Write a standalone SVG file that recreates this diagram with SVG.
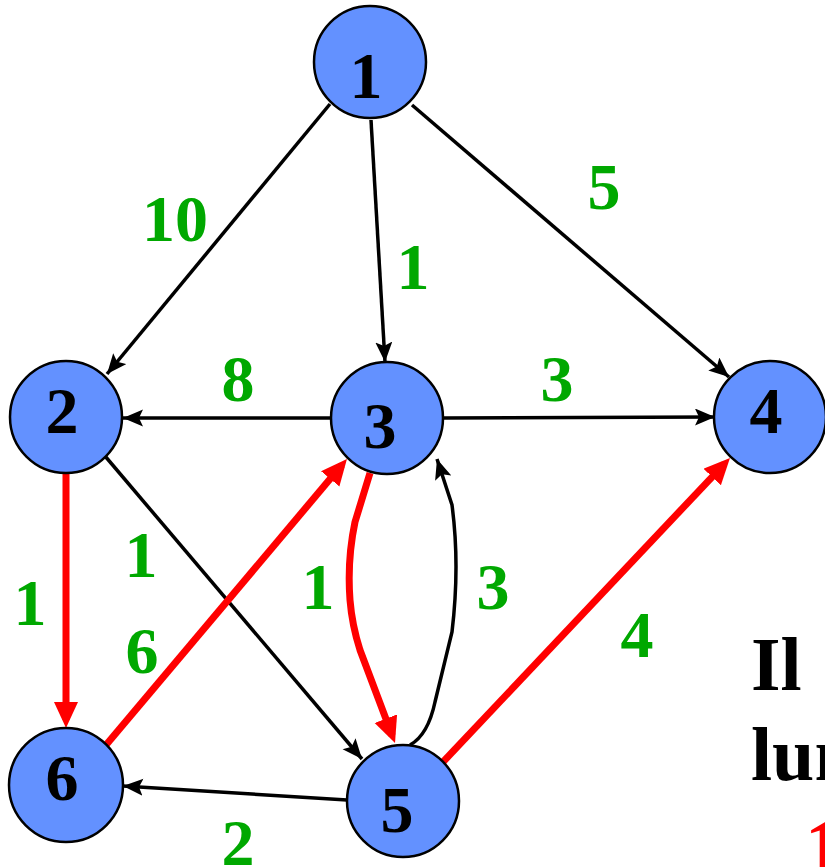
<svg xmlns="http://www.w3.org/2000/svg" width="825" height="867" viewBox="0 0 825 867">
<style>
.node circle{fill:#6391ff;stroke:#000;stroke-width:2.5}
.node text{font-family:"Liberation Serif","Times New Roman",serif;font-weight:bold;font-size:66px;fill:#000;text-anchor:middle}
.w{font-family:"Liberation Serif","Times New Roman",serif;font-weight:bold;font-size:66px;fill:#00a800;text-anchor:middle}
.blk{fill:none;stroke:#000;stroke-width:3.5}
.red{fill:none;stroke:#ff0000;stroke-width:7}
.side{font-family:"Liberation Serif","Times New Roman",serif;font-weight:bold;font-size:76px;fill:#000}
.side.r{fill:#ff0000}
</style>
<defs>
<marker id="ab" markerUnits="userSpaceOnUse" markerWidth="22" markerHeight="18" refX="20" refY="8.5" orient="auto">
<path d="M0,0 L20,8.5 L0,17 L4,8.5 z" fill="#000"/>
</marker>
<marker id="ar" markerUnits="userSpaceOnUse" markerWidth="28" markerHeight="26" refX="18" refY="12" orient="auto">
<path d="M0,0 L26,12 L0,24 z" fill="#ff0000"/>
</marker>
</defs>
<rect width="825" height="867" fill="#fff"/>
<g id="connectors">
<path class="blk" d="M330,104 L107,374" marker-end="url(#ab)"/>
<path class="blk" d="M371,120 L385,362" marker-end="url(#ab)"/>
<path class="blk" d="M412,105 L729,377" marker-end="url(#ab)"/>
<path class="blk" d="M331,418 L123,418" marker-end="url(#ab)"/>
<path class="blk" d="M443,418 L715,417" marker-end="url(#ab)"/>
<path class="blk" d="M105,456 L362,759" marker-end="url(#ab)"/>
<path class="blk" d="M347,800 L123,786" marker-end="url(#ab)"/>
<path class="blk" d="M410,745 Q428,735 435,702 L452,632 Q460,565 452,505 L437,459" marker-end="url(#ab)"/>
<path class="red" d="M66,474 L66,720" marker-end="url(#ar)"/>
<path class="red" d="M106,745 L341.8,465.1" marker-end="url(#ar)"/>
<path class="red" d="M443,762 L724.5,463.8" marker-end="url(#ar)"/>
<path class="red" d="M370,473 L355,522 Q347,560 350,600 Q352,625 360,650 L392.2,735.5" marker-end="url(#ar)"/>
</g>
<g id="n1" class="node"><circle cx="370" cy="62" r="56"/><text x="366" y="98">1</text></g>
<g id="n2" class="node"><circle cx="66" cy="417" r="56"/><text x="62" y="433">2</text></g>
<g id="n3" class="node"><circle cx="387" cy="418" r="56"/><text x="380" y="448">3</text></g>
<g id="n4" class="node"><circle cx="770" cy="417" r="56"/><text x="766" y="433">4</text></g>
<g id="n5" class="node"><circle cx="403" cy="801" r="56"/><text x="397" y="832">5</text></g>
<g id="n6" class="node"><circle cx="66" cy="785" r="57"/><text x="62" y="800">6</text></g>
<g id="labels">
<text class="w" x="175" y="241">10</text>
<text class="w" x="413" y="289">1</text>
<text class="w" x="604" y="209">5</text>
<text class="w" x="238" y="401">8</text>
<text class="w" x="557" y="401">3</text>
<text class="w" x="141" y="577">1</text>
<text class="w" x="30" y="625">1</text>
<text class="w" x="142" y="673">6</text>
<text class="w" x="318" y="609">1</text>
<text class="w" x="493" y="609">3</text>
<text class="w" x="637" y="657">4</text>
<text class="w" x="238" y="865">2</text>
</g>
<text class="side" x="751" y="690">Il</text>
<text class="side" x="751" y="780">lun</text>
<text class="side r" x="805" y="872">1</text>
</svg>
